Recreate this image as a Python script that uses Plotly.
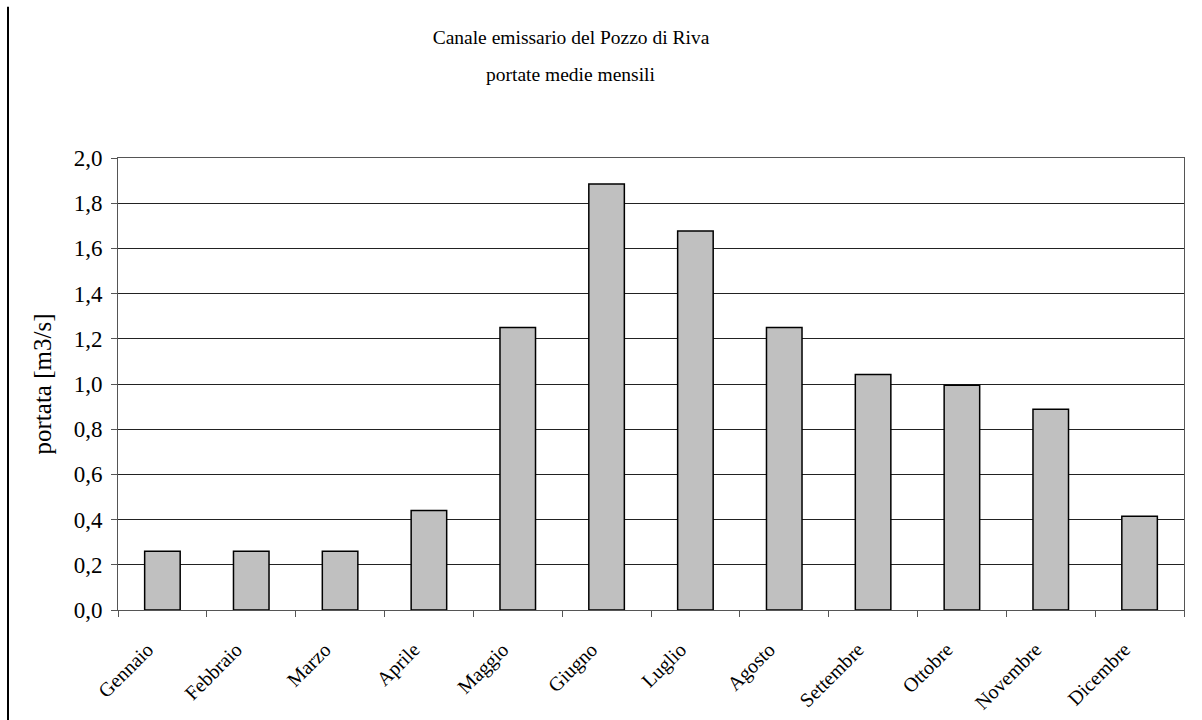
import plotly.graph_objects as go

# Mean monthly discharge of the outlet channel
mesi = ["Gennaio", "Febbraio", "Marzo", "Aprile", "Maggio", "Giugno",
        "Luglio", "Agosto", "Settembre", "Ottobre", "Novembre", "Dicembre"]
portate = [0.26, 0.26, 0.26, 0.44, 1.25, 1.885, 1.677, 1.25, 1.042, 0.995, 0.888, 0.415]
y_ticks = [0.0, 0.2, 0.4, 0.6, 0.8, 1.0, 1.2, 1.4, 1.6, 1.8, 2.0]

titolo = "Canale emissario del Pozzo di Riva"
sottotitolo = "portate medie mensili"

FONT = "Liberation Serif"

fig = go.Figure(
    go.Bar(
        x=mesi,
        y=portate,
        marker=dict(color="#C0C0C0", line=dict(color="#000000", width=1.5)),
        width=0.4,
    )
)

fig.update_layout(
    width=1202,
    height=720,
    margin=dict(l=118, r=18, t=158, b=110),
    paper_bgcolor="white",
    plot_bgcolor="white",
    separators=", ",
    showlegend=False,
    font=dict(family=FONT, color="#000000"),
    title=dict(
        text=titolo,
        x=571 / 1202,
        xanchor="center",
        xref="container",
        y=1 - 37 / 720,
        yanchor="middle",
        font=dict(family=FONT, size=19.5, color="#000000"),
    ),
)

fig.add_annotation(
    text=sottotitolo,
    xref="paper", yref="paper",
    x=(571 - 118) / 1066, y=(609.5 - 75) / 451.5,
    xanchor="center", yanchor="middle",
    showarrow=False,
    font=dict(family=FONT, size=19.5, color="#000000"),
)

fig.update_xaxes(
    type="category",
    automargin=False,
    tickson="boundaries",
    ticks="outside",
    ticklen=6,
    tickcolor="#555555",
    tickangle=-45,
    tickfont=dict(family=FONT, size=20),
    ticklabelstandoff=19,
    ticklabelshift=-15,
    showline=True,
    linecolor="#555555",
    linewidth=1,
    mirror=True,
    showgrid=False,
)

fig.update_yaxes(
    range=[0, 2.0],
    automargin=False,
    tickvals=y_ticks,
    tickformat=".1f",
    ticks="outside",
    ticklen=6,
    tickcolor="#555555",
    tickfont=dict(family=FONT, size=23),
    ticklabelstandoff=4,
    showline=True,
    linecolor="#555555",
    linewidth=1,
    mirror=True,
    showgrid=True,
    gridcolor="#222222",
    gridwidth=1,
    zeroline=False,
    title=dict(text="portata [m3/s]", font=dict(family=FONT, size=25), standoff=14),
)

# Left frame edge of the chart sheet
fig.add_shape(
    type="line",
    xref="paper", yref="paper",
    x0=(8 - 118) / 1066, x1=(8 - 118) / 1066,
    y0=(609.5 - 7) / 451.5, y1=(609.5 - 725) / 451.5,
    line=dict(color="#000000", width=2),
)

fig.write_html("out.html")
